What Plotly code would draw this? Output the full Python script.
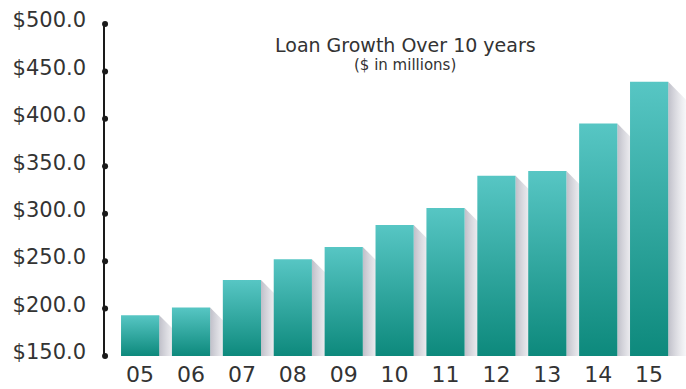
import plotly.graph_objects as go

years = ["05", "06", "07", "08", "09", "10", "11", "12", "13", "14", "15"]
loans = [193, 201, 230, 252, 265, 288, 306, 340, 345, 395, 439]
y_ticks = [150, 200, 250, 300, 350, 400, 450, 500]
y_tick_text = ["$%.1f" % v for v in y_ticks]

BASE = 150
BAR_W = 0.75
SH_W = 0.4
PX_PER_UNIT_X = 50.9
PX_PER_UNIT_Y = 332 / 350.0
X0 = -0.69
X1 = X0 + 581 / PX_PER_UNIT_X

TOP_C = "#57c6c4"
BOT_C = "#0d897c"
FONT = "DejaVu Sans"
TXT = "#333333"

fig = go.Figure()

# shadows
for i, v in enumerate(loans):
    xr = i + BAR_W / 2
    dy = SH_W * PX_PER_UNIT_X / PX_PER_UNIT_Y
    fig.add_trace(go.Scatter(
        x=[xr, xr + SH_W, xr + SH_W, xr, xr],
        y=[v, v - dy, BASE, BASE, v],
        mode="lines", line=dict(width=0), fill="toself",
        fillgradient=dict(type="horizontal", start=xr, stop=xr + SH_W,
                          colorscale=[[0, "rgba(188,188,198,0.95)"], [1, "rgba(250,250,252,0.6)"]]),
        hoverinfo="skip", showlegend=False))

# bars
for i, v in enumerate(loans):
    xl, xr = i - BAR_W / 2, i + BAR_W / 2
    fig.add_trace(go.Scatter(
        x=[xl, xr, xr, xl, xl],
        y=[BASE, BASE, v, v, BASE],
        mode="lines", line=dict(width=0), fill="toself",
        fillgradient=dict(type="vertical", start=BASE, stop=v,
                          colorscale=[[0, BOT_C], [1, TOP_C]]),
        hoverinfo="skip", showlegend=False))

# axis dots
fig.add_trace(go.Scatter(
    x=[X0 + 0.001] * len(y_ticks), y=y_ticks, mode="markers",
    marker=dict(color="#1a1a1a", size=6), cliponaxis=False,
    hoverinfo="skip", showlegend=False))

W, H = 686, 389
l, r, t, b = 105, 0, 24, 33
pw, ph = W - l - r, H - t - b

def px(x):
    return (x - l) / pw

def py(y):
    return 1 - (y - t) / ph

fig.update_layout(
    width=W, height=H,
    margin=dict(l=l, r=r, t=t, b=b),
    paper_bgcolor="white", plot_bgcolor="white",
    showlegend=False,
    xaxis=dict(range=[X0, X1], tickvals=list(range(len(years))), ticktext=years,
               showgrid=False, zeroline=False, showline=False, automargin=False,
               ticks="", ticklabelstandoff=3,
               tickfont=dict(family=FONT, size=22, color=TXT)),
    yaxis=dict(range=[BASE, 500], tickvals=y_ticks, ticktext=y_tick_text,
               showgrid=False, zeroline=False, showline=True, linecolor="#1a1a1a", linewidth=1.5,
               ticks="", ticklabelstandoff=13, ticklabelshift=-4, automargin=False,
               tickfont=dict(family=FONT, size=21, color=TXT)),
    annotations=[
        dict(text="Loan Growth Over 10 years", x=px(405), y=py(45), xref="paper", yref="paper",
             xanchor="center", yanchor="middle",
             showarrow=False, font=dict(family=FONT, size=19, color=TXT)),
        dict(text="($ in millions)", x=px(405), y=py(65), xref="paper", yref="paper",
             xanchor="center", yanchor="middle",
             showarrow=False, font=dict(family=FONT, size=15, color=TXT)),
    ],
)

fig.write_html("out.html")
